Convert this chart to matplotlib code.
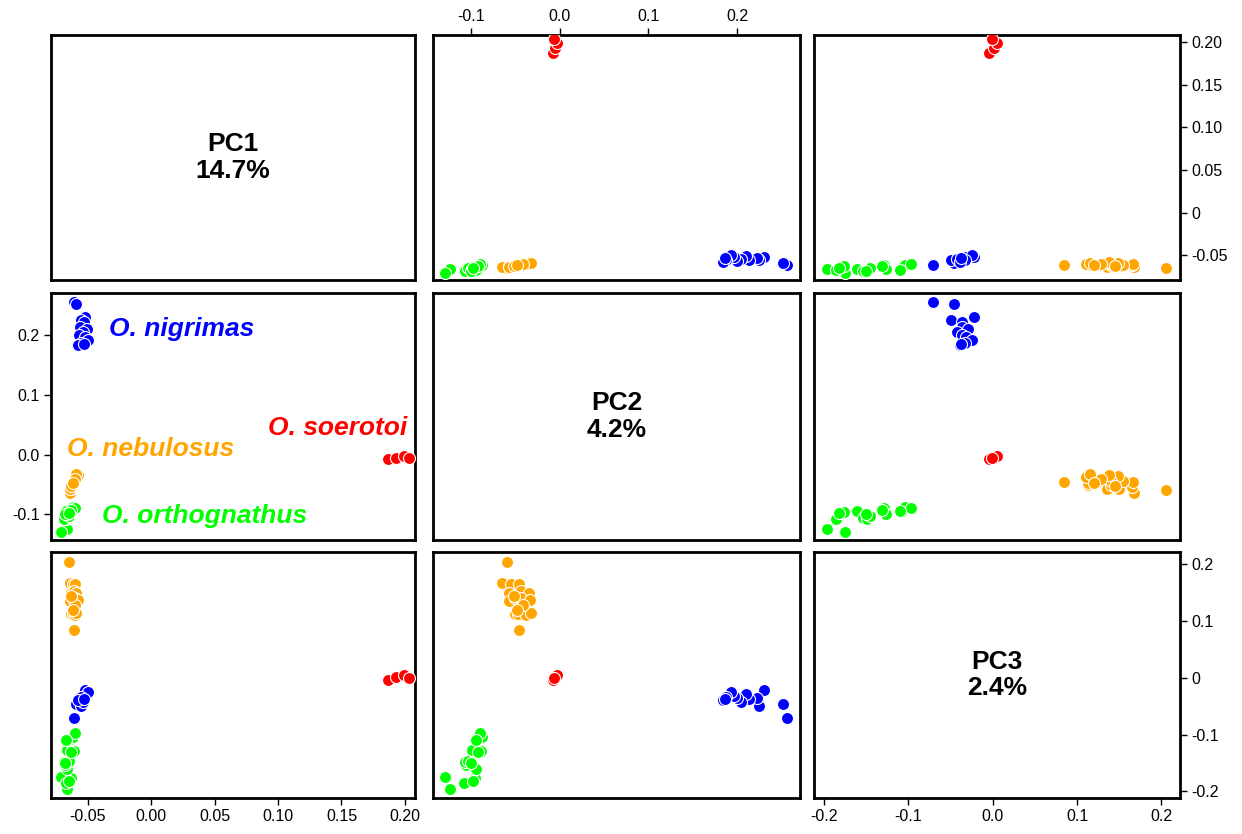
import numpy as np
import matplotlib.pyplot as plt

plt.rcParams['font.family'] = ['Liberation Sans', 'DejaVu Sans']

# PC scores per species
soerotoi_pc1 = [0.187, 0.193, 0.199, 0.203]
soerotoi_pc2 = [-0.008, -0.005, -0.003, -0.006]
soerotoi_pc3 = [-0.004, 0.002, 0.005, -0.001]

nigrimas_pc1 = [-0.061, -0.059, -0.052, -0.055, -0.053, -0.056, -0.051,
                -0.054, -0.057, -0.052, -0.050, -0.055, -0.058, -0.053]
nigrimas_pc2 = [0.256, 0.252, 0.230, 0.225, 0.222, 0.214, 0.210,
                0.205, 0.200, 0.197, 0.193, 0.188, 0.184, 0.186]
nigrimas_pc3 = [-0.071, -0.046, -0.022, -0.049, -0.036, -0.037, -0.029,
                -0.043, -0.036, -0.032, -0.025, -0.033, -0.039, -0.038]

nebulosus_pc1 = [-0.065, -0.064, -0.062, -0.060, -0.063, -0.061, -0.059,
                 -0.064, -0.062, -0.060, -0.058, -0.061, -0.063, -0.062,
                 -0.060, -0.059, -0.061, -0.060, -0.063, -0.062]
nebulosus_pc2 = [-0.060, -0.065, -0.055, -0.046, -0.057, -0.044, -0.035,
                 -0.057, -0.050, -0.044, -0.034, -0.046, -0.050, -0.047,
                 -0.038, -0.032, -0.046, -0.041, -0.052, -0.048]
nebulosus_pc3 = [0.205, 0.168, 0.165, 0.166, 0.150, 0.154, 0.149,
                 0.135, 0.140, 0.140, 0.138, 0.124, 0.113, 0.113,
                 0.111, 0.115, 0.085, 0.128, 0.145, 0.120]

orthognathus_pc1 = [-0.066, -0.071, -0.067, -0.064, -0.063, -0.066, -0.068,
                    -0.069, -0.065, -0.061, -0.066, -0.064, -0.062, -0.060,
                    -0.067, -0.068, -0.063, -0.065]
orthognathus_pc2 = [-0.124, -0.129, -0.108, -0.097, -0.096, -0.095, -0.106,
                    -0.107, -0.103, -0.089, -0.099, -0.094, -0.088, -0.090,
                    -0.095, -0.100, -0.092, -0.098]
orthognathus_pc3 = [-0.196, -0.175, -0.186, -0.180, -0.176, -0.161, -0.154,
                    -0.149, -0.146, -0.129, -0.127, -0.108, -0.104, -0.097,
                    -0.110, -0.150, -0.131, -0.182]

species = ['O. nigrimas', 'O. soerotoi', 'O. nebulosus', 'O. orthognathus']
colors = ['#0000ff', '#ff0000', '#ffa500', '#00ff00']
scores = [
    [nigrimas_pc1, nigrimas_pc2, nigrimas_pc3],
    [soerotoi_pc1, soerotoi_pc2, soerotoi_pc3],
    [nebulosus_pc1, nebulosus_pc2, nebulosus_pc3],
    [orthognathus_pc1, orthognathus_pc2, orthognathus_pc3],
]
pc_names = ['PC1', 'PC2', 'PC3']
pc_var = ['14.7%', '4.2%', '2.4%']
lims = [(-0.079, 0.208), (-0.143, 0.271), (-0.212, 0.222)]

W, H = 1242, 834
cols_px = [(51, 415), (433, 800), (814, 1180)]
rows_px = [(35, 280), (293, 540), (552, 798)]

fig = plt.figure(figsize=(W / 100, H / 100), dpi=100)

axes = {}
for r in range(3):
    for c in range(3):
        x0, x1 = cols_px[c]
        y0, y1 = rows_px[r]
        ax = fig.add_axes([x0 / W, 1 - y1 / H, (x1 - x0) / W, (y1 - y0) / H])
        ax.set_xlim(lims[c])
        ax.set_ylim(lims[r])
        ax.set_xticks([])
        ax.set_yticks([])
        for s in ax.spines.values():
            s.set_linewidth(2)
        if r == c:
            ax.text(0.5, 0.5, pc_names[r] + '\n' + pc_var[r], transform=ax.transAxes,
                    ha='center', va='center', fontsize=19, fontweight='bold',
                    linespacing=1.15)
        else:
            for sc, col in zip(scores, colors):
                ax.scatter(sc[c], sc[r], s=75, color=col, edgecolor='white',
                           linewidth=0.8, zorder=3)
        ax.tick_params(labelsize=11.5, length=5, width=1, direction='out', pad=3)
        axes[(r, c)] = ax

# axis ticks, placed like R's pairs()
ax = axes[(0, 1)]
ax.xaxis.tick_top()
ax.set_xticks([-0.1, 0.0, 0.1, 0.2], ['-0.1', '0.0', '0.1', '0.2'])

ax = axes[(0, 2)]
ax.yaxis.tick_right()
ax.set_yticks([-0.05, 0.0, 0.05, 0.10, 0.15, 0.20],
              ['-0.05', '0', '0.05', '0.10', '0.15', '0.20'])

ax = axes[(1, 0)]
ax.set_yticks([-0.1, 0.0, 0.1, 0.2], ['-0.1', '0.0', '0.1', '0.2'])

ax = axes[(2, 0)]
ax.set_xticks([-0.05, 0.0, 0.05, 0.10, 0.15, 0.20],
              ['-0.05', '0.00', '0.05', '0.10', '0.15', '0.20'])

ax = axes[(2, 2)]
ax.yaxis.tick_right()
ax.set_yticks([-0.2, -0.1, 0.0, 0.1, 0.2], ['-0.2', '-0.1', '0', '0.1', '0.2'])
ax.set_xticks([-0.2, -0.1, 0.0, 0.1, 0.2], ['-0.2', '-0.1', '0.0', '0.1', '0.2'])

# species labels
ax = axes[(1, 0)]
lab_kw = dict(fontsize=19, fontweight='bold', fontstyle='italic', va='center')
ax.text(-0.033, 0.210, species[0], color=colors[0], ha='left', **lab_kw)
ax.text(0.2015, 0.045, species[1], color=colors[1], ha='right', **lab_kw)
ax.text(-0.066, 0.010, species[2], color=colors[2], ha='left', **lab_kw)
ax.text(-0.039, -0.103, species[3], color=colors[3], ha='left', **lab_kw)

fig.savefig('out.png', dpi=100)
